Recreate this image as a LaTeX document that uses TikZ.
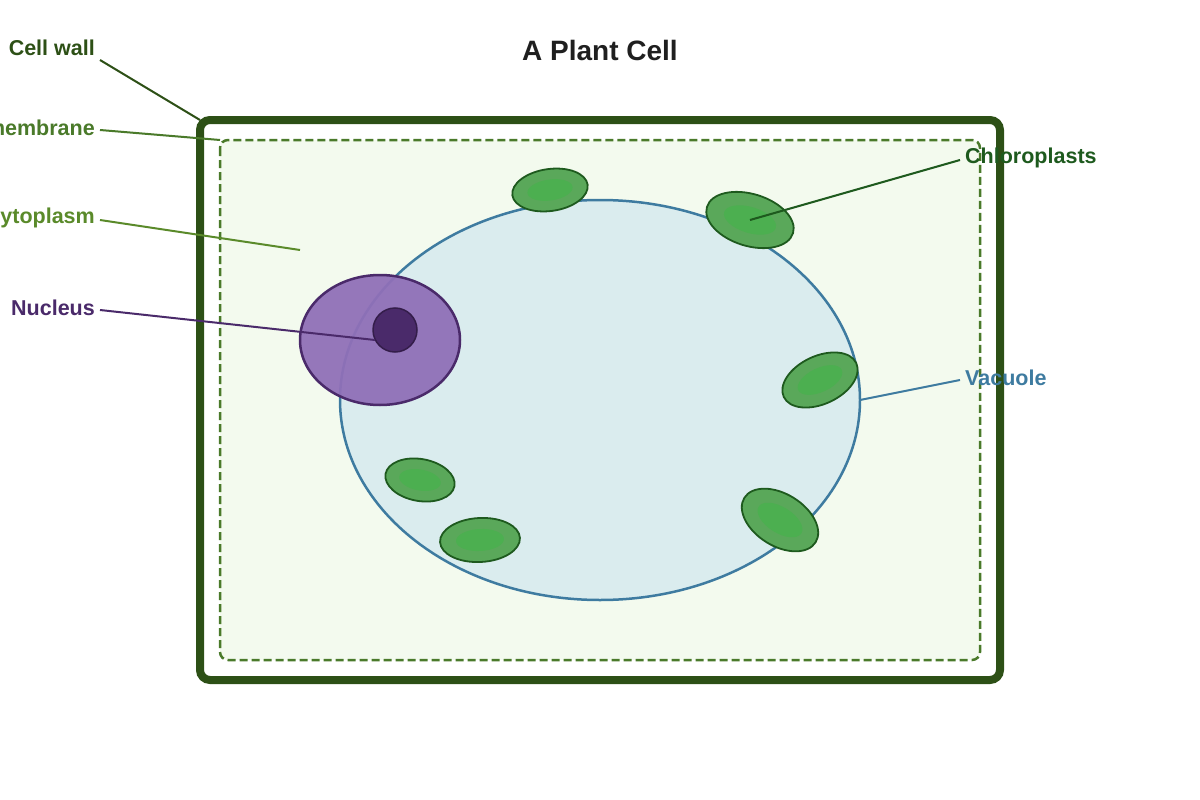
\documentclass[tikz,border=0pt]{standalone}
\usepackage{fontspec}
\setmainfont{Liberation Sans}
\begin{document}
\begin{tikzpicture}[x=1pt,y=-1pt,
  lbl/.style={font=\bfseries\fontsize{21.5}{24}\selectfont,anchor=east,inner sep=0pt}]
\definecolor{wall}{HTML}{2D5016}
\definecolor{memb}{HTML}{4A7A2A}
\definecolor{cyto}{HTML}{5A8A2A}
\definecolor{vac}{HTML}{3E7BA0}
\definecolor{vacf}{HTML}{DAECEE}
\definecolor{cytf}{HTML}{F3FAEE}
\definecolor{nuc}{HTML}{4A2A6A}
\definecolor{nucf}{HTML}{9070B8}
\definecolor{chlc}{HTML}{1E5A1E}
\definecolor{chf}{HTML}{5AA85A}
\definecolor{chi}{HTML}{4CAF50}
\clip (0,0) rectangle (1200,800);
\useasboundingbox (0,0) rectangle (1200,800);
\node[font=\bfseries\fontsize{28}{32}\selectfont,text=black!88] (title) at (600,50) {A Plant Cell};
\draw[wall,line width=8pt,rounded corners=10pt] (200,120) rectangle (1000,680);
\draw[memb,fill=cytf,line width=2.5pt,dash pattern=on 8pt off 4pt,rounded corners=8pt] (220,140) rectangle (980,660);
\draw[vac,fill=vacf,line width=2.5pt] (600,400) ellipse [x radius=260,y radius=200];
\fill[nucf,fill opacity=0.95] (380,340) ellipse [x radius=80,y radius=65];
\draw[nuc,line width=2.5pt] (380,340) ellipse [x radius=80,y radius=65];
\node[circle,fill=nuc,draw=nuc!70!black,line width=1.5pt,minimum size=44pt,inner sep=0pt] (nucleolus) at (395,330) {};
\foreach \x/\y/\a/\b/\r in {550/190/38/21/8, 750/220/45/26/-17, 820/380/40/24/25, 780/520/42/26/-32, 420/480/35/21/-10, 480/540/40/22/3}{
  \draw[fill=chf,draw=chlc,line width=1.8pt,rotate around={\r:(\x,\y)}] (\x,\y) ellipse [x radius=\a,y radius=\b];
  \fill[chi,rotate around={\r:(\x,\y)}] (\x,\y) ellipse [x radius=\a*0.6,y radius=\b*0.5];
}
\node[lbl,text=wall] (lw) at (95,48) {Cell wall};
\node[lbl,text=memb] (lm) at (95,128) {Cell membrane};
\node[lbl,text=cyto] (lc) at (95,218) {Cytoplasm};
\node[lbl,text=nuc] (ln) at (95,308) {Nucleus};
\node[lbl,text=chlc,anchor=west] (lch) at (965,158) {Chloroplasts};
\node[lbl,text=vac,anchor=west] (lv) at (965,378) {Vacuole};
\coordinate (pw) at (200,120);\coordinate (pm) at (220,140);\coordinate (pc) at (300,250);
\coordinate (pn) at (375,340);\coordinate (pch) at (750,220);\coordinate (pv) at (860,400);
\draw[wall,line width=2pt] (100,60) -- (pw);
\draw[memb,line width=2pt] (100,130) -- (pm);
\draw[cyto,line width=2pt] (100,220) -- (pc);
\draw[nuc,line width=2pt] (100,310) -- (pn);
\draw[chlc,line width=2pt] (960,160) -- (pch);
\draw[vac,line width=2pt] (960,380) -- (pv);
\end{tikzpicture}
\end{document}
